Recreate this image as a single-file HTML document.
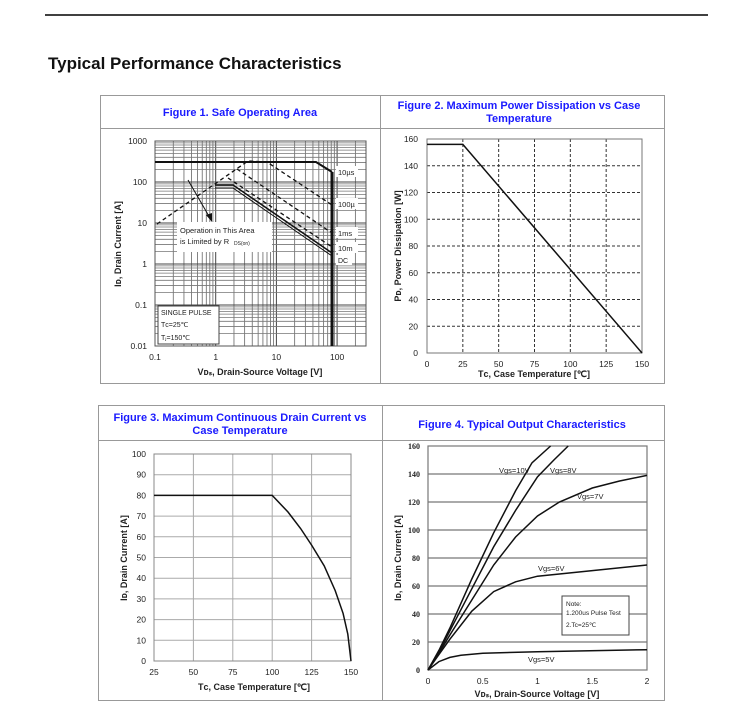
<!DOCTYPE html>
<html><head><meta charset="utf-8"><style>
body{margin:0;width:743px;height:713px;background:#fff;overflow:hidden;font-family:"Liberation Sans",Arial,sans-serif}
svg{position:absolute;left:0;top:0}
</style></head><body>
<svg id="s" width="743" height="713" viewBox="0 0 743 713" font-family="Liberation Sans, Arial, sans-serif">
<line x1="45" y1="15" x2="708" y2="15" stroke="#000" stroke-width="1.5"/>
<text x="48" y="69" font-size="17" font-weight="bold" fill="#111">Typical Performance Characteristics</text>
<g fill="none" stroke="#999" stroke-width="1">
<rect x="100.5" y="95.5" width="564" height="288"/>
<line x1="380.5" y1="95" x2="380.5" y2="383"/>
<line x1="100" y1="128.5" x2="664" y2="128.5"/>
<rect x="98.5" y="405.5" width="566" height="295"/>
<line x1="382.5" y1="405" x2="382.5" y2="700"/>
<line x1="98" y1="440.5" x2="664" y2="440.5"/>
</g>
<g fill="#1a1aff" font-weight="bold" font-size="11" text-anchor="middle">
<text x="240" y="116">Figure 1. Safe Operating Area</text>
<text x="519" y="109">Figure 2. Maximum Power Dissipation vs Case</text>
<text x="519" y="122">Temperature</text>
<text x="240" y="421">Figure 3. Maximum Continuous Drain Current vs</text>
<text x="240" y="434">Case Temperature</text>
<text x="522" y="428">Figure 4. Typical Output Characteristics</text>
</g>
<g id="g1"></g>
<g id="g2"></g>
<g id="g3"></g>
<g id="g4"></g>
</svg>
<script>
var NS="http://www.w3.org/2000/svg";
function el(p,t,a,txt){var e=document.createElementNS(NS,t);for(var k in a)e.setAttribute(k,a[k]);if(txt!=null)e.textContent=txt;document.getElementById(p).appendChild(e);return e;}
function L(p,x1,y1,x2,y2,st,w,da){var a={x1:x1,y1:y1,x2:x2,y2:y2,stroke:st,"stroke-width":w||1};if(da)a["stroke-dasharray"]=da;el(p,"line",a);}
function T(p,x,y,s,txt,anc,extra){var a={x:x,y:y,"font-size":s,"text-anchor":anc||"middle",fill:"#222"};for(var k in extra)a[k]=extra[k];return el(p,"text",a,txt);}
function PL(p,pts,w,da){var a={points:pts,fill:"none",stroke:"#111","stroke-width":w||1.5};if(da)a["stroke-dasharray"]=da;el(p,"polyline",a);}
var x0=155,x1=366,y0=141,y1=346,dx=60.7,dy=41;
var lg=[0,.301,.477,.602,.699,.778,.845,.903,.954];
for(var d=0;d<4;d++)for(var i=0;i<9;i++){var x=x0+dx*(d+lg[i]);if(x<=x1)L("g1",x,y0,x,y1,i==0?"#444":"#666",i==0?1:0.8);}
for(var d=0;d<5;d++)for(var i=0;i<9;i++){var y=y1-dy*(d+lg[i]);L("g1",x0,y,x1,y,i==0?"#444":"#777",i==0?1:0.8);}
el("g1","rect",{x:x0,y:y0,width:x1-x0,height:y1-y0,fill:"none",stroke:"#555"});
PL("g1","155,162 316,162 332,172",2);
L("g1",332,172,332,346,"#111",3);
PL("g1","157,224 248,161 267,162 332,205",1.3,"4,3");
PL("g1","237,169 332,233",1.3,"4,3");
PL("g1","228,178 332,247",1.3,"4,3");
PL("g1","215,185 233,185 332,253",1.5);
PL("g1","215,188 233,188 332,256",1);
L("g1",188,180,210,218,"#111",1);
el("g1","polygon",{points:"212,222 206,215 212,213",fill:"#111"});
el("g1","rect",{x:177,y:222,width:95,height:30,fill:"#fff"});
T("g1",180,233,7.5,"Operation in This Area","start");
T("g1",180,244,7.5,"is Limited by R","start");
el("g1","text",{x:234,y:245,"font-size":5,fill:"#222"},"DS(on)");
el("g1","rect",{x:158,y:306,width:61,height:38,fill:"#fff",stroke:"#444"});
T("g1",161,315,7,"SINGLE PULSE","start");T("g1",161,327,7,"T\u1D04=25\u2103","start");T("g1",161,340,7,"T\u2C7C=150\u2103","start");
[["10\u00b5s",175],["100\u00b5",207],["1ms",236],["10m",251]].forEach(function(a){el("g1","rect",{x:336,y:a[1]-9,width:22,height:11,fill:"#fff"});T("g1",338,a[1],7.5,a[0],"start");});
el("g1","rect",{x:336,y:255,width:16,height:10,fill:"#fff"});T("g1",338,263,7,"DC","start");
["1000","100","10","1","0.1","0.01"].forEach(function(s,i){T("g1",147,144+41*i,8.5,s,"end");});
["0.1","1","10","100"].forEach(function(s,i){T("g1",155+dx*i,360,8.5,s);});
T("g1",260,375,9,"V\u1D05\u209B, Drain-Source Voltage [V]","middle",{"font-weight":"bold"});
T("g1",0,0,9,"I\u1D05, Drain Current [A]","middle",{"font-weight":"bold",transform:"translate(121,244) rotate(-90)"});
var ax=427,bx=642,ay=139,by=353;
for(var i=1;i<6;i++){var x=ax+(bx-ax)*i/6;L("g2",x,ay,x,by,"#333",1,"3,2");}
for(var i=1;i<8;i++){var y=by-(by-ay)*i/8;L("g2",ax,y,bx,y,"#333",1,"3,2");}
el("g2","rect",{x:ax,y:ay,width:bx-ax,height:by-ay,fill:"none",stroke:"#777"});
PL("g2",ax+","+(by-156*(by-ay)/160)+" "+(ax+(bx-ax)/6)+","+(by-156*(by-ay)/160)+" "+bx+","+by,1.5);
for(var i=0;i<=8;i++)T("g2",418,by-(by-ay)*i/8+3,8.5,String(i*20),"end");
for(var i=0;i<=6;i++)T("g2",ax+(bx-ax)*i/6,367,8.5,String(i*25));
T("g2",534,377,9,"T\u1D04, Case Temperature [\u2103]","middle",{"font-weight":"bold"});
T("g2",0,0,9,"P\u1D05, Power Dissipation [W]","middle",{"font-weight":"bold",transform:"translate(401,246) rotate(-90)"});
ax=154;bx=351;ay=454;by=661;
for(var i=1;i<5;i++){var x=ax+(bx-ax)*i/5;L("g3",x,ay,x,by,"#aaa",1);}
for(var i=1;i<10;i++){var y=by-(by-ay)*i/10;L("g3",ax,y,bx,y,"#aaa",1);}
el("g3","rect",{x:ax,y:ay,width:bx-ax,height:by-ay,fill:"none",stroke:"#888"});
function m3(t,v){return (ax+(t-25)/125*(bx-ax)).toFixed(1)+","+(by-v/100*(by-ay)).toFixed(1);}
PL("g3",[m3(25,80),m3(100,80),m3(110,72),m3(118,64),m3(125,56),m3(133,46),m3(140,34),m3(145,23),m3(148,13),m3(150,0)].join(" "),1.5);
for(var i=0;i<=10;i++)T("g3",146,by-(by-ay)*i/10+3,8.5,String(i*10),"end");
for(var i=0;i<=5;i++)T("g3",ax+(bx-ax)*i/5,675,8.5,String(25+i*25));
T("g3",254,690,9,"T\u1D04, Case Temperature [\u2103]","middle",{"font-weight":"bold"});
T("g3",0,0,9,"I\u1D05, Drain Current [A]","middle",{"font-weight":"bold",transform:"translate(127,558) rotate(-90)"});
ax=428;bx=647;ay=446;by=670;
for(var i=1;i<8;i++){var y=by-(by-ay)*i/8;L("g4",ax,y,bx,y,"#777",1.2);}
el("g4","rect",{x:ax,y:ay,width:bx-ax,height:by-ay,fill:"none",stroke:"#777","stroke-width":1.2});
function m4(a){return a.map(function(p){return (ax+p[0]*109.5).toFixed(1)+","+(by-p[1]*1.4).toFixed(1);}).join(" ");}
PL("g4",m4([[0,0],[0.1,14],[0.2,30],[0.4,65],[0.6,98],[0.8,128],[0.95,148],[1.12,160]]),1.5);
PL("g4",m4([[0,0],[0.1,13],[0.2,28],[0.4,58],[0.6,88],[0.8,114],[1.0,138],[1.15,150],[1.28,160]]),1.5);
PL("g4",m4([[0,0],[0.1,12],[0.2,25],[0.4,50],[0.6,75],[0.8,95],[1.0,110],[1.2,120],[1.5,130],[1.75,135],[2,139]]),1.5);
PL("g4",m4([[0,0],[0.1,11],[0.2,22],[0.4,42],[0.6,56],[0.8,63],[1.0,67],[1.5,71],[2,75]]),1.5);
PL("g4",m4([[0,0],[0.1,6],[0.2,9],[0.3,10.5],[0.5,12],[1,13],[2,14.5]]),1.5);
T("g4",499,473,7.5,"Vgs=10V","start");T("g4",550,473,7.5,"Vgs=8V","start");
T("g4",577,499,7.5,"Vgs=7V","start");T("g4",538,571,7.5,"Vgs=6V","start");T("g4",528,662,7.5,"Vgs=5V","start");
el("g4","rect",{x:562,y:596,width:67,height:39,fill:"#fff",stroke:"#444"});
T("g4",566,606,6.5,"Note:","start");T("g4",566,615,6.5,"1.200us Pulse Test","start");T("g4",566,627,6.5,"2.Tc=25\u2103","start");
for(var i=0;i<=8;i++)T("g4",420,by-(by-ay)*i/8+3,8,String(i*20),"end",{"font-family":"Liberation Serif, serif","font-weight":"bold"});
["0","0.5","1","1.5","2"].forEach(function(s,i){T("g4",ax+54.75*i,684,8.5,s);});
T("g4",537,697,9,"V\u1D05\u209B, Drain-Source Voltage [V]","middle",{"font-weight":"bold"});
T("g4",0,0,9,"I\u1D05, Drain Current [A]","middle",{"font-weight":"bold",transform:"translate(401,558) rotate(-90)"});
</script>
</body></html>
